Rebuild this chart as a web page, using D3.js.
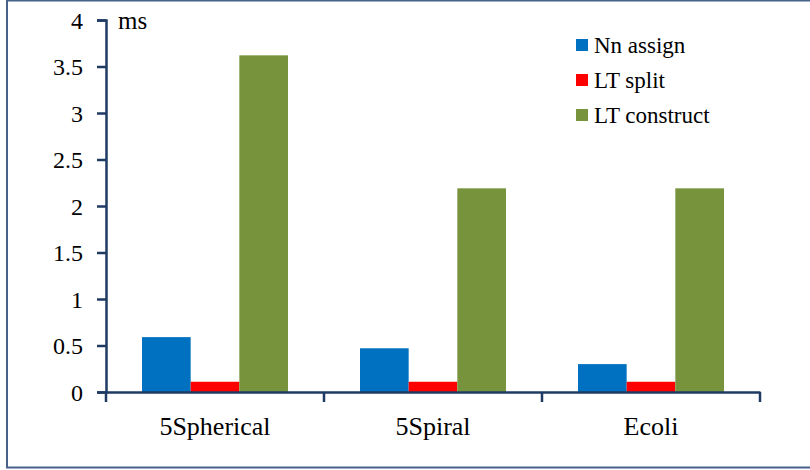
<!DOCTYPE html>
<html>
<head>
<meta charset="utf-8">
<script src="https://cdn.jsdelivr.net/npm/d3@7"></script>
<style>
  body { margin: 0; background: #ffffff; }
</style>
</head>
<body>
<div id="chart"></div>
<script>
const w = 810;
const h = 470;
const serif = "Liberation Serif, DejaVu Serif, Times New Roman, serif";

// data
const categories = ["5Spherical", "5Spiral", "Ecoli"];
const seriesNames = ["Nn assign", "LT split", "LT construct"];
const nnAssign = [0.59, 0.47, 0.30];
const ltSplit = [0.11, 0.11, 0.11];
const ltConstruct = [3.62, 2.19, 2.19];
const yTicks = [0, 0.5, 1, 1.5, 2, 2.5, 3, 3.5, 4];
const colors = ["#0070c0", "#ff0000", "#77933c"];

const series = [nnAssign, ltSplit, ltConstruct];

let svg = d3.select("div#chart").append("svg")
    .attr("width", w).attr("height", h)
    .attr("font-family", serif)
    .style("background-color", "#ffffff");

// outer frame
svg.append("rect")
    .attr("x", 7).attr("y", 0.5)
    .attr("width", w + 10).attr("height", 467)
    .style("fill", "none")
    .style("stroke", "#46618a")
    .style("stroke-width", 2);

const margin = {left: 106, right: 50, top: 20, bottom: 78};
const x = d3.scaleBand().domain(categories).range([margin.left, w - margin.right]);
const y = d3.scaleLinear().domain([0, 4]).range([h - margin.bottom, margin.top]);
const inner = d3.scaleBand().domain(d3.range(seriesNames.length))
    .range([0, x.bandwidth()]).paddingOuter(0.74).paddingInner(0);

// bars
series.forEach((vals, si) => {
    svg.append("g").selectAll("rect")
        .data(vals)
        .join("rect")
        .attr("x", (d, i) => x(categories[i]) + inner(si))
        .attr("width", inner.bandwidth())
        .attr("y", d => y(d))
        .attr("height", d => y(0) - y(d))
        .style("fill", colors[si]);
});

const axisColor = "#1f3b63";

// y axis
let yAxis = svg.append("g")
    .attr("transform", "translate(" + margin.left + ",0)")
    .call(d3.axisLeft(y).tickValues(yTicks).tickSize(9).tickPadding(14).tickFormat(d3.format("")));
yAxis.attr("font-family", serif);
yAxis.select(".domain").style("stroke", axisColor).style("stroke-width", 2.5);
yAxis.selectAll(".tick line").style("stroke", axisColor).style("stroke-width", 2.5);
yAxis.selectAll("text")
    .style("font-size", "24px").style("fill", "#000")
    .attr("dy", "0.34em");

// x axis
let xAxis = svg.append("g")
    .attr("transform", "translate(0," + y(0) + ")")
    .call(d3.axisBottom(x).tickSize(0).tickPadding(25));
xAxis.attr("font-family", serif);
xAxis.select(".domain").style("stroke", axisColor).style("stroke-width", 2.5);
xAxis.selectAll("text")
    .style("font-size", "26px").style("fill", "#000");

// category separator ticks
const bounds = [margin.left].concat(categories.map(c => x(c) + x.bandwidth()));
svg.append("g").selectAll("line")
    .data(bounds)
    .join("line")
    .attr("x1", d => d).attr("x2", d => d)
    .attr("y1", y(0)).attr("y2", y(0) + 10)
    .style("stroke", axisColor)
    .style("stroke-width", 2.5);

// unit label
svg.append("text")
    .attr("x", 118).attr("y", 29)
    .style("font-size", "25px")
    .text("ms");

// legend
let legend = svg.append("g").attr("transform", "translate(576,45)");
seriesNames.forEach((name, i) => {
    let row = legend.append("g").attr("transform", "translate(0," + (i * 35) + ")");
    row.append("rect")
        .attr("x", 0).attr("y", -6)
        .attr("width", 12).attr("height", 12)
        .style("fill", colors[i]);
    row.append("text")
        .attr("x", 18).attr("y", 8)
        .style("font-size", "23px")
        .text(name);
});
</script>
</body>
</html>
